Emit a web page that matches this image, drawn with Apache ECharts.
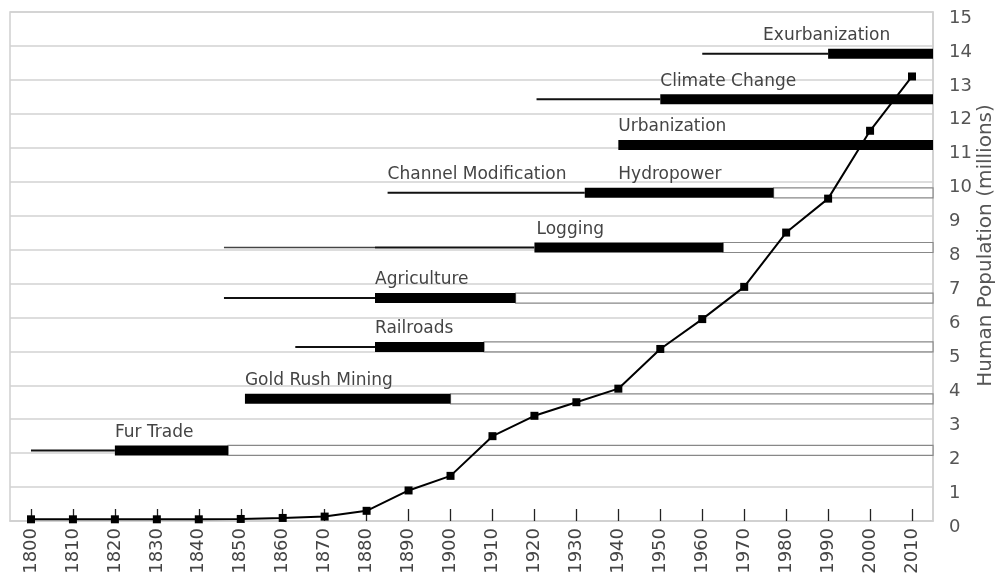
<!DOCTYPE html>
<html>
<head>
<meta charset="utf-8">
<script src="https://cdn.jsdelivr.net/npm/echarts@6/dist/echarts.min.js"></script>
<style>
  html, body { margin: 0; padding: 0; background: #fff; }
  #chart { width: 998px; height: 579px; }
</style>
</head>
<body>
<div id="chart"></div>
<script>
// population (millions) per decade
const years = [1800, 1810, 1820, 1830, 1840, 1850, 1860, 1870, 1880, 1890, 1900,
               1910, 1920, 1930, 1940, 1950, 1960, 1970, 1980, 1990, 2000, 2010];
const population = [0.05, 0.05, 0.05, 0.05, 0.05, 0.06, 0.09, 0.13, 0.3, 0.9, 1.33,
                    2.5, 3.1, 3.5, 3.9, 5.07, 5.95, 6.9, 8.5, 9.5, 11.5, 13.1];
const yTicks = [0, 1, 2, 3, 4, 5, 6, 7, 8, 9, 10, 11, 12, 13, 14, 15];

// activity timelines (years), null = no such part
const activities = ['Fur Trade', 'Gold Rush Mining', 'Railroads', 'Agriculture', 'Logging',
                    'Channel Modification', 'Hydropower', 'Urbanization', 'Climate Change', 'Exurbanization'];
const rowLevel   = [2.08, 3.6, 5.13, 6.57, 8.06, 9.67, 9.67, 11.08, 12.43, 13.77];
const faintStart = [null, null, null, null, 1846, null, null, null, null, null];
const faintEnd   = [null, null, null, null, 1882, null, null, null, null, null];
const lineStart  = [1800, null, 1863, 1846, 1882, 1885, null, null, 1920.5, 1960];
const lineEnd    = [1820, null, 1882, 1882, 1920, 1932, null, null, 1950, 1990];
const barStart   = [1820, 1851, 1882, 1882, 1920, null, 1932, 1940, 1950, 1990];
const barEnd     = [1847, 1900, 1908, 1915.5, 1965, null, 1977, 2015, 2015, 2015];
const labelYear  = [1820, 1851, 1882, 1882, 1920.5, 1885, 1940, 1940, 1950, 1974.5];

const X_MIN = 1795, X_MAX = 2015;
const FONT = 'DejaVu Sans';

function renderActivity(params, api) {
    const i = api.value(2);
    const y = api.coord([X_MIN, rowLevel[i]])[1];
    const px = (v) => api.coord([v, 0])[0];
    const right = px(X_MAX);
    const kids = [];

    if (faintStart[i] != null) {
        kids.push({ type: 'line', shape: { x1: px(faintStart[i]), y1: y, x2: px(faintEnd[i]), y2: y },
                    style: { stroke: '#444', lineWidth: 1.4 } });
    }
    if (lineStart[i] != null) {
        kids.push({ type: 'line', shape: { x1: px(lineStart[i]), y1: y, x2: px(lineEnd[i]), y2: y },
                    style: { stroke: '#111', lineWidth: 2 } });
    }
    if (barStart[i] != null) {
        const x1 = px(barStart[i]), x2 = px(barEnd[i]);
        if (barEnd[i] < X_MAX) {
            kids.push({ type: 'rect', shape: { x: x2, y: y - 5, width: right - x2, height: 10 },
                        style: { fill: '#fff', stroke: '#888', lineWidth: 1.2 } });
        }
        kids.push({ type: 'rect', shape: { x: x1, y: y - 5, width: x2 - x1, height: 10 },
                    style: { fill: '#000' } });
    }
    kids.push({ type: 'text', x: px(labelYear[i]), y: y - 18,
                style: { text: activities[i], fill: '#444', font: '17px "' + FONT + '"',
                         verticalAlign: 'middle', align: 'left' } });
    return { type: 'group', children: kids };
}

const chart = echarts.init(document.getElementById('chart'));
chart.setOption({
    animation: false,
    backgroundColor: '#fff',
    grid: {
        left: 10, right: 65, top: 12, bottom: 58,
        outerBoundsMode: 'none',
        containLabel: false,
        show: true, borderColor: '#cfcfcf', borderWidth: 1.5,
    },
    xAxis: {
        type: 'value',
        min: X_MIN,
        max: X_MAX,
        axisLine: { show: true, lineStyle: { color: '#cfcfcf', width: 1.5 } },
        axisTick: {
            show: true, inside: true, length: 12, customValues: years,
            lineStyle: { color: '#222', width: 1.3 },
        },
        axisLabel: {
            customValues: years, rotate: 90, margin: 7,
            color: '#444', fontFamily: FONT, fontSize: 18,
            formatter: (v) => String(v),
        },
        splitLine: { show: false },
    },
    yAxis: {
        type: 'value',
        position: 'right',
        min: 0,
        max: 15,
        interval: 1,
        name: 'Human Population (millions)',
        nameLocation: 'middle',
        nameRotate: 90,
        nameGap: 43,
        nameMoveOverlap: false,
        nameTextStyle: { color: '#555', fontFamily: FONT, fontSize: 20, padding: [0, 0, 0, 42] },
        axisLine: { show: true, lineStyle: { color: '#cfcfcf', width: 1.5 } },
        axisTick: { show: false },
        axisLabel: {
            margin: 16, color: '#555', fontFamily: FONT, fontSize: 18,
            verticalAlign: 'top', lineHeight: 12,
            formatter: (v) => (yTicks.includes(v) ? String(v) : ''),
        },
        splitLine: { show: true, lineStyle: { color: '#d2d2d2', width: 1.5 } },
    },
    series: [
        {
            type: 'custom',
            renderItem: renderActivity,
            encode: { x: 0, y: 1 },
            data: activities.map((_, i) => [X_MIN, rowLevel[i], i]),
            z: 2,
            silent: true,
        },
        {
            type: 'line',
            data: years.map((yr, i) => [yr, population[i]]),
            symbol: 'rect',
            symbolSize: 8,
            itemStyle: { color: '#000' },
            lineStyle: { color: '#000', width: 2 },
            z: 10,
        },
    ],
});
</script>
</body>
</html>
